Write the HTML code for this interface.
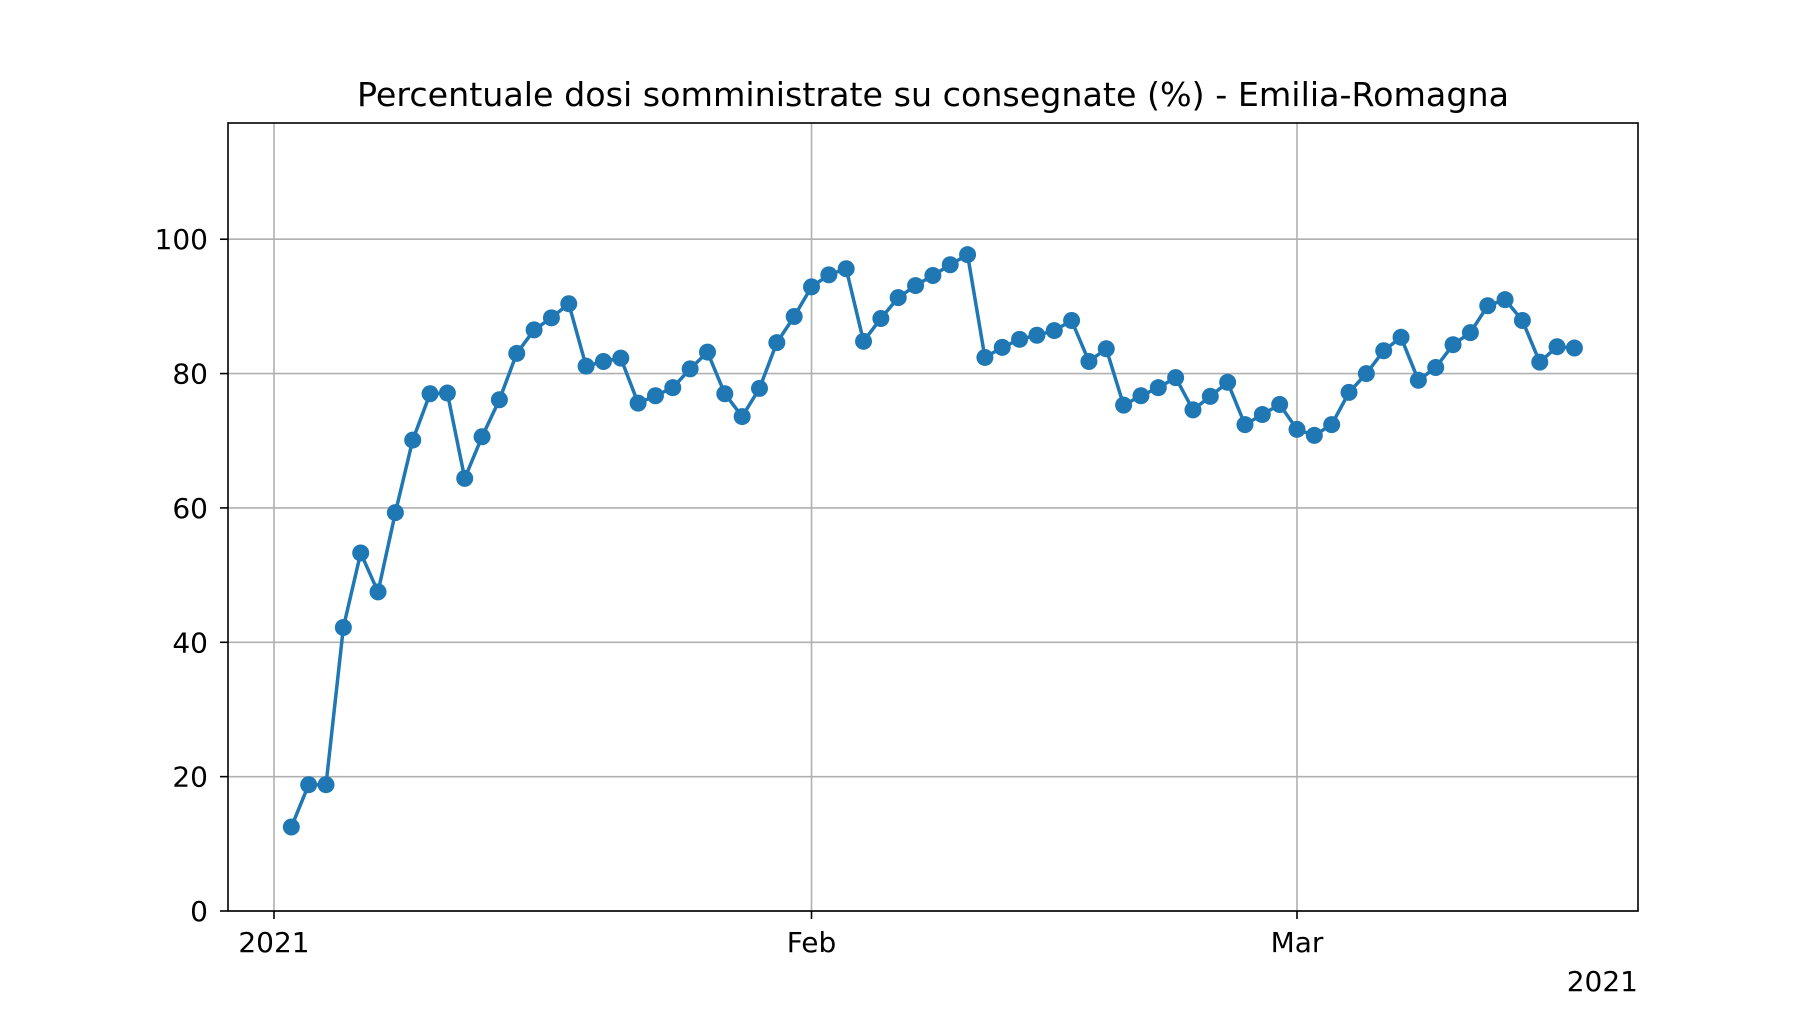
<!DOCTYPE html>
<html><head><meta charset="utf-8"><style>
body{margin:0;background:#fff;}
svg{display:block;font-family:"DejaVu Sans","Liberation Sans",sans-serif;}
</style></head><body>
<svg id="chart" width="1820" height="1024">
<rect width="1820" height="1024" fill="#fff"/>
<text x="933" y="106" text-anchor="middle" font-size="33.3">Percentuale dosi somministrate su consegnate (%) - Emilia-Romagna</text>
<g id="grid"></g><g id="ticks"></g><g id="series"></g>
<rect x="228" y="123" width="1410" height="788" fill="none" stroke="#000" stroke-width="1.6"/>
<text x="1638" y="991" text-anchor="end" font-size="28">2021</text>
</svg>
<script>
const values=[12.5,18.8,18.8,42.2,53.3,47.5,59.3,70.1,77.0,77.1,64.4,70.6,76.1,83.0,86.5,88.3,90.4,81.1,81.8,82.3,75.6,76.7,77.9,80.7,83.2,77.0,73.6,77.8,84.6,88.5,
92.9,94.7,95.6,84.8,88.2,91.3,93.1,94.6,96.2,97.7,82.4,83.9,85.1,85.7,86.4,87.9,81.8,83.7,75.3,76.7,77.9,79.4,74.6,76.6,78.7,72.4,73.9,75.4,
71.7,70.8,72.4,77.2,80.0,83.4,85.4,79.0,80.9,84.3,86.1,90.1,91.0,87.9,81.7,84.0,83.8];
const startDay=1;
const yTicks=[0,20,40,60,80,100];
const xTickDays=[0,31,59];
const xTickLabels=["2021","Feb","Mar"];
const NS="http://www.w3.org/2000/svg";
const L=228,R=1638,T=123,B=911,YMAX=117.3;
const x0=274,dayPx=(1297-274)/59;
function xs(d){return x0+d*dayPx;}
function ys(v){return B-v/YMAX*(B-T);}
function mk(tag,a,p){const e=document.createElementNS(NS,tag);for(const k in a)e.setAttribute(k,a[k]);p.appendChild(e);return e;}
const grid=document.getElementById('grid'),ticks=document.getElementById('ticks'),ser=document.getElementById('series');
yTicks.forEach(v=>{const y=ys(v);
const g=mk('line',{x1:L,x2:R,y1:y,y2:y,stroke:'#b0b0b0','stroke-width':1.6},grid);


mk('line',{x1:L-8,x2:L,y1:y,y2:y,stroke:'#000','stroke-width':1.6},ticks);
const t=mk('text',{x:L-20,y:y+10,'text-anchor':'end','font-size':28},ticks);t.textContent=v;


});
xTickDays.forEach((d,i)=>{const x=xs(d);
const g=mk('line',{x1:x,x2:x,y1:T,y2:B,stroke:'#b0b0b0','stroke-width':1.6},grid);


mk('line',{x1:x,x2:x,y1:B,y2:B+8,stroke:'#000','stroke-width':1.6},ticks);
const t=mk('text',{x:x,y:B+41,'text-anchor':'middle','font-size':28},ticks);t.textContent=xTickLabels[i];


});
const pts=values.map((v,i)=>[xs(startDay+i),ys(v)]);
const pl=mk('polyline',{points:pts.map(p=>p.join(',')).join(' '),fill:'none',stroke:'#1f77b4','stroke-width':3.5,'stroke-linejoin':'round'},ser);


pts.forEach(p=>{const c=mk('circle',{cx:p[0],cy:p[1],r:8.5,fill:'#1f77b4'},ser);


});
</script>
</body></html>
